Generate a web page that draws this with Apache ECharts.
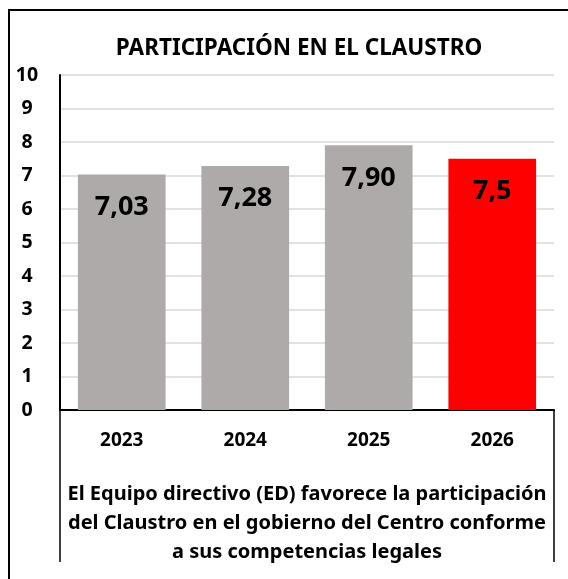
<!DOCTYPE html>
<html><head><meta charset="utf-8">
<script src="https://cdn.jsdelivr.net/npm/echarts@6/dist/echarts.min.js"></script>
<style>html,body{margin:0;padding:0;background:#fff}#c{width:568px;height:579px}</style>
</head><body><div id="c"></div>
<script>
const categories = ['2023', '2024', '2025', '2026'];
const values = [7.03, 7.28, 7.90, 7.5];
const valueLabels = ['7,03', '7,28', '7,90', '7,5'];
const barColors = ['#AEAAAA', '#AEAAAA', '#AEAAAA', '#FF0000'];
const yTicks = [0, 10, 1];
const titleText = 'PARTICIPACIÓN EN EL CLAUSTRO';
const groupLabel = ['El Equipo directivo (ED) favorece la participación', 'del Claustro en el gobierno del Centro conforme', 'a sus competencias legales'];

const FONT = '"Noto Sans"';
const chart = echarts.init(document.getElementById('c'), null, {renderer: 'canvas'});
chart.setOption({
  animation: false,
  backgroundColor: '#fff',
  textStyle: {fontFamily: FONT},
  title: {
    text: titleText, left: 294, textAlign: 'center', top: 32,
    textStyle: {fontFamily: FONT, fontWeight: 'bold', fontSize: 22.5, color: '#000'}
  },
  graphic: [{
    type: 'rect', shape: {x: 9, y: 10, width: 620, height: 620},
    style: {fill: null, stroke: '#000', lineWidth: 2}, silent: true, z: 100
  }],
  grid: {left: 60, right: 14, top: 75, bottom: 169},
  xAxis: [{
    type: 'category', data: categories, position: 'bottom',
    axisLine: {show: true, lineStyle: {color: '#000', width: 2}},
    axisTick: {show: false},
    axisLabel: {margin: 21, fontFamily: FONT, fontWeight: 'bold', fontSize: 19, color: '#000'}
  }, {
    type: 'category', data: [groupLabel.join('\n')], position: 'bottom',
    axisLine: {show: false},
    axisTick: {show: true, length: 152, lineStyle: {color: '#000', width: 1.5}},
    axisLabel: {margin: 70, fontFamily: FONT, fontWeight: 'bold', fontSize: 20, lineHeight: 29, color: '#000', align: 'center'}
  }],
  yAxis: {
    type: 'value', min: yTicks[0], max: yTicks[1], interval: yTicks[2],
    axisLine: {show: true, lineStyle: {color: '#000', width: 2}},
    axisTick: {show: false},
    splitLine: {lineStyle: {color: '#D9D9D9', width: 1.5}},
    axisLabel: {margin: 33, align: 'center', fontFamily: FONT, fontWeight: 'bold', fontSize: 19.5, color: '#000'}
  },
  series: [{
    type: 'bar', xAxisIndex: 0, barWidth: '71%',
    data: values.map((v, i) => ({value: v, itemStyle: {color: barColors[i]}})),
    label: {
      show: true, position: 'insideTop', distance: 19,
      formatter: p => valueLabels[p.dataIndex],
      fontFamily: FONT, fontWeight: 'bold', fontSize: 27, color: '#000'
    }
  }]
});
</script></body></html>
